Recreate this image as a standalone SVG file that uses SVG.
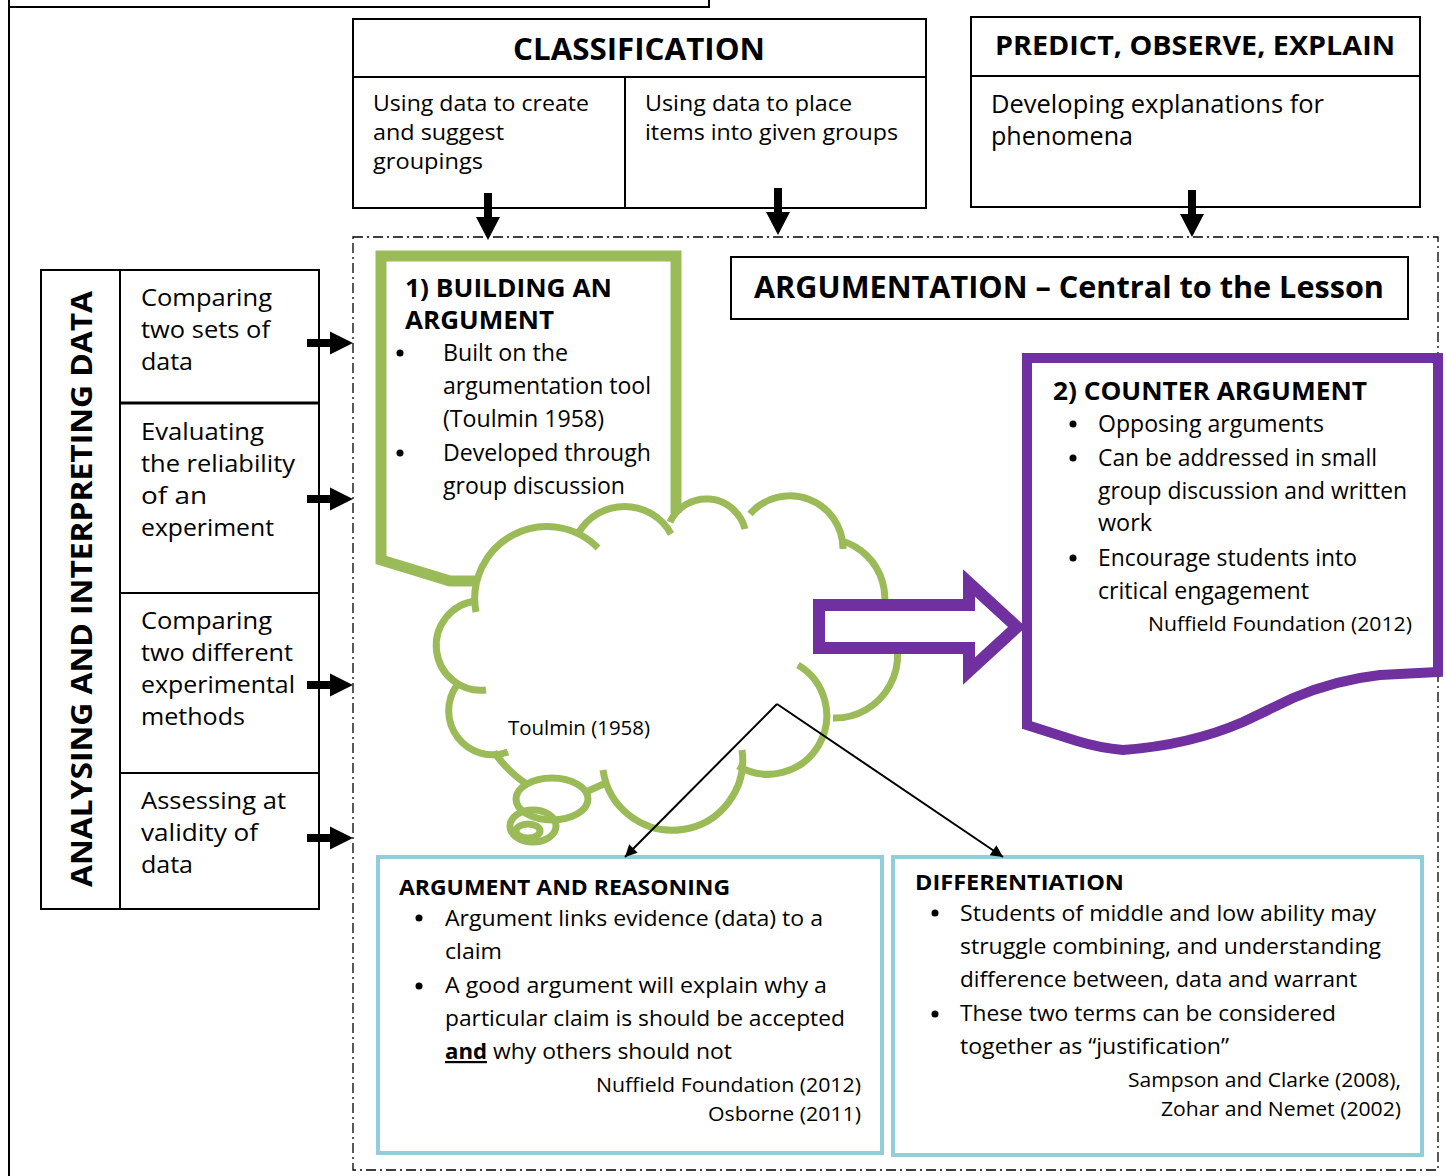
<svg xmlns="http://www.w3.org/2000/svg" width="1446" height="1176" viewBox="0 0 1446 1176">
<style>
text{font-family:"Open Sans","Noto Sans","DejaVu Sans",sans-serif;fill:#000}
.b{font-weight:bold}
.box{fill:#fff;stroke:#000;stroke-width:2}
.ln{stroke:#000;stroke-width:2;fill:none}
.cl{fill:none;stroke:#9BBB59;stroke-width:7}
.blue{fill:#fff;stroke:#92CDDC;stroke-width:4}
.s22{font-size:22px}.s24{font-size:24px}.s23{font-size:23px}.s20{font-size:20px}.s25{font-size:25px}
</style>
<defs>
<path id="darr" d="M-4,0 H4 V24 H12 L0,47 L-12,24 H-4 Z" fill="#000"/>
<path id="rarr" d="M0,-4 H23 V-11.5 L46,0 L23,11.5 V4 H0 Z" fill="#000"/>
<marker id="ah" viewBox="0 0 10 10" refX="10" refY="5" markerWidth="7" markerHeight="6" orient="auto" markerUnits="strokeWidth"><path d="M0,0 L10,5 L0,10 Z" fill="#000"/></marker>
</defs>
<rect width="1446" height="1176" fill="#fff"/>
<g id="frame">
<rect x="9" y="-10" width="700" height="17" fill="none" stroke="#000" stroke-width="2"/>
<line x1="9" y1="0" x2="9" y2="1176" stroke="#000" stroke-width="2"/>
<rect x="353" y="237" width="1085" height="933" fill="none" stroke="#000" stroke-width="1.3" stroke-dasharray="10,4,2,4"/>
</g>
<g id="classification">
<rect class="box" x="353" y="19" width="573" height="189"/>
<line class="ln" x1="353" y1="77" x2="926" y2="77"/>
<line class="ln" x1="625" y1="77" x2="625" y2="208"/>
<text class="b" x="639" y="60" font-size="30" text-anchor="middle" textLength="252" lengthAdjust="spacingAndGlyphs">CLASSIFICATION</text>
<text class="s22" x="373" y="111" textLength="216" lengthAdjust="spacingAndGlyphs">Using data to create</text>
<text class="s22" x="373" y="140" textLength="131" lengthAdjust="spacingAndGlyphs">and suggest</text>
<text class="s22" x="373" y="169" textLength="110" lengthAdjust="spacingAndGlyphs">groupings</text>
<text class="s22" x="645" y="111" textLength="207" lengthAdjust="spacingAndGlyphs">Using data to place</text>
<text class="s22" x="645" y="140" textLength="253" lengthAdjust="spacingAndGlyphs">items into given groups</text>
</g>
<g id="poe">
<rect class="box" x="971" y="17" width="449" height="190"/>
<line class="ln" x1="971" y1="76" x2="1420" y2="76"/>
<text class="b" x="1195" y="55" font-size="27" text-anchor="middle" textLength="400" lengthAdjust="spacingAndGlyphs">PREDICT, OBSERVE, EXPLAIN</text>
<text class="s25" x="991" y="113" textLength="333" lengthAdjust="spacingAndGlyphs">Developing explanations for</text>
<text class="s25" x="991" y="145" textLength="142" lengthAdjust="spacingAndGlyphs">phenomena</text>
</g>
<g id="analysing">
<rect class="box" x="41" y="270" width="278" height="639"/>
<line class="ln" x1="120" y1="270" x2="120" y2="909"/>
<line x1="120" y1="403" x2="319" y2="403" stroke="#000" stroke-width="3"/>
<line class="ln" x1="120" y1="593" x2="319" y2="593"/>
<line class="ln" x1="120" y1="773" x2="319" y2="773"/>
<text class="b" transform="translate(92,589) rotate(-90)" font-size="29" text-anchor="middle" textLength="596" lengthAdjust="spacingAndGlyphs">ANALYSING AND INTERPRETING DATA</text>
<text class="s24" x="141" y="306" textLength="131" lengthAdjust="spacingAndGlyphs">Comparing</text>
<text class="s24" x="141" y="338" textLength="129" lengthAdjust="spacingAndGlyphs">two sets of</text>
<text class="s24" x="141" y="370" textLength="52" lengthAdjust="spacingAndGlyphs">data</text>
<text class="s24" x="141" y="440" textLength="123" lengthAdjust="spacingAndGlyphs">Evaluating</text>
<text class="s24" x="141" y="472" textLength="154" lengthAdjust="spacingAndGlyphs">the reliability</text>
<text class="s24" x="141" y="504" textLength="66" lengthAdjust="spacingAndGlyphs">of an</text>
<text class="s24" x="141" y="536" textLength="133" lengthAdjust="spacingAndGlyphs">experiment</text>
<text class="s24" x="141" y="629" textLength="131" lengthAdjust="spacingAndGlyphs">Comparing</text>
<text class="s24" x="141" y="661" textLength="152" lengthAdjust="spacingAndGlyphs">two different</text>
<text class="s24" x="141" y="693" textLength="154" lengthAdjust="spacingAndGlyphs">experimental</text>
<text class="s24" x="141" y="725" textLength="104" lengthAdjust="spacingAndGlyphs">methods</text>
<text class="s24" x="141" y="809" textLength="145" lengthAdjust="spacingAndGlyphs">Assessing at</text>
<text class="s24" x="141" y="841" textLength="117" lengthAdjust="spacingAndGlyphs">validity of</text>
<text class="s24" x="141" y="873" textLength="52" lengthAdjust="spacingAndGlyphs">data</text>
</g>
<g id="building">
<path d="M676,513 V256 H381 V560 L450,581 H479" fill="none" stroke="#9BBB59" stroke-width="11" stroke-linejoin="miter"/>
<text class="b s25" x="405" y="297" textLength="207" lengthAdjust="spacingAndGlyphs">1) BUILDING AN</text>
<text class="b s25" x="405" y="329" textLength="149" lengthAdjust="spacingAndGlyphs">ARGUMENT</text>
<circle cx="400" cy="353" r="3.5"/>
<circle cx="400" cy="453" r="3.5"/>
<text class="s23" x="443" y="361" textLength="125" lengthAdjust="spacingAndGlyphs">Built on the</text>
<text class="s23" x="443" y="394" textLength="208" lengthAdjust="spacingAndGlyphs">argumentation tool</text>
<text class="s23" x="443" y="427" textLength="161" lengthAdjust="spacingAndGlyphs">(Toulmin 1958)</text>
<text class="s23" x="443" y="461" textLength="208" lengthAdjust="spacingAndGlyphs">Developed through</text>
<text class="s23" x="443" y="494" textLength="182" lengthAdjust="spacingAndGlyphs">group discussion</text>
</g>
<g id="cloud">
<path class="cl" d="M476,612 A72,72 0 0 1 598,548"/>
<path class="cl" d="M578,534 A53,53 0 0 1 671,534"/>
<path class="cl" d="M670,522 A40,40 0 0 1 745,529"/>
<path class="cl" d="M750,514 A53,53 0 0 1 843,549"/>
<path class="cl" d="M842,541 A60,60 0 0 1 870,638"/>
<path class="cl" d="M887,620 A63,63 0 0 1 833,718"/>
<path class="cl" d="M798,665 A57,57 0 1 1 738,766"/>
<path class="cl" d="M742,750 A70,70 0 0 1 603,770"/>
<path class="cl" d="M588,791 L608,782"/>
<path class="cl" d="M508,752 A44,44 0 0 1 457,685"/>
<path class="cl" d="M486,690 A44,44 0 0 1 476,601"/>
<path class="cl" d="M494,752 Q508,772 528,785"/>
<ellipse class="cl" cx="552" cy="799" rx="36" ry="21" fill="#fff"/>
<ellipse class="cl" cx="533" cy="826" rx="23" ry="16" fill="#fff"/>
<ellipse class="cl" cx="528" cy="831" rx="12" ry="7" fill="#fff"/>
<text class="s20" x="508" y="735" textLength="142" lengthAdjust="spacingAndGlyphs">Toulmin (1958)</text>
</g>
<g id="argumentation">
<rect class="box" x="731" y="257" width="677" height="62"/>
<text class="b" x="1069" y="298" font-size="30" text-anchor="middle" textLength="630" lengthAdjust="spacingAndGlyphs">ARGUMENTATION – Central to the Lesson</text>
</g>
<g id="counter">
<path d="M1027,358 H1438 V672 L1380,675 Q1335,680 1293,698 L1243,722 Q1190,745 1123,750 Q1100,748 1077,741 L1027,725 Z" fill="#fff" stroke="#7030A0" stroke-width="10" stroke-linejoin="miter"/>
<text class="b s25" x="1053" y="400" textLength="314" lengthAdjust="spacingAndGlyphs">2) COUNTER ARGUMENT</text>
<circle cx="1073" cy="424" r="3.5"/>
<circle cx="1073" cy="458" r="3.5"/>
<circle cx="1073" cy="558" r="3.5"/>
<text class="s23" x="1098" y="432" textLength="226" lengthAdjust="spacingAndGlyphs">Opposing arguments</text>
<text class="s23" x="1098" y="466" textLength="279" lengthAdjust="spacingAndGlyphs">Can be addressed in small</text>
<text class="s23" x="1098" y="499" textLength="309" lengthAdjust="spacingAndGlyphs">group discussion and written</text>
<text class="s23" x="1098" y="531" textLength="54" lengthAdjust="spacingAndGlyphs">work</text>
<text class="s23" x="1098" y="566" textLength="259" lengthAdjust="spacingAndGlyphs">Encourage students into</text>
<text class="s23" x="1098" y="599" textLength="211" lengthAdjust="spacingAndGlyphs">critical engagement</text>
<text class="s20" x="1412" y="631" text-anchor="end" textLength="264" lengthAdjust="spacingAndGlyphs">Nuffield Foundation (2012)</text>
</g>
<g id="reasoning">
<rect class="blue" x="378" y="857" width="504" height="296"/>
<text class="b s22" x="399" y="895" textLength="331" lengthAdjust="spacingAndGlyphs">ARGUMENT AND REASONING</text>
<circle cx="419" cy="918" r="3.5"/>
<circle cx="419" cy="986" r="3.5"/>
<text class="s22" x="445" y="926" textLength="378" lengthAdjust="spacingAndGlyphs">Argument links evidence (data) to a</text>
<text class="s22" x="445" y="959" textLength="57" lengthAdjust="spacingAndGlyphs">claim</text>
<text class="s22" x="445" y="993" textLength="382" lengthAdjust="spacingAndGlyphs">A good argument will explain why a</text>
<text class="s22" x="445" y="1026" textLength="400" lengthAdjust="spacingAndGlyphs">particular claim is should be accepted</text>
<text class="b s22" x="445" y="1059" text-decoration="underline" textLength="42" lengthAdjust="spacingAndGlyphs">and</text>
<text class="s22" x="493" y="1059" textLength="239" lengthAdjust="spacingAndGlyphs">why others should not</text>
<text class="s20" x="861" y="1092" text-anchor="end" textLength="265" lengthAdjust="spacingAndGlyphs">Nuffield Foundation (2012)</text>
<text class="s20" x="861" y="1121" text-anchor="end" textLength="153" lengthAdjust="spacingAndGlyphs">Osborne (2011)</text>
</g>
<g id="differentiation">
<rect class="blue" x="893" y="857" width="529" height="298"/>
<text class="b s22" x="915" y="890" textLength="209" lengthAdjust="spacingAndGlyphs">DIFFERENTIATION</text>
<circle cx="935" cy="913" r="3.5"/>
<circle cx="935" cy="1014" r="3.5"/>
<text class="s22" x="960" y="921" textLength="416" lengthAdjust="spacingAndGlyphs">Students of middle and low ability may</text>
<text class="s22" x="960" y="954" textLength="421" lengthAdjust="spacingAndGlyphs">struggle combining, and understanding</text>
<text class="s22" x="960" y="987" textLength="397" lengthAdjust="spacingAndGlyphs">difference between, data and warrant</text>
<text class="s22" x="960" y="1021" textLength="376" lengthAdjust="spacingAndGlyphs">These two terms can be considered</text>
<text class="s22" x="960" y="1054" textLength="269" lengthAdjust="spacingAndGlyphs">together as “justification”</text>
<text class="s20" x="1401" y="1087" text-anchor="end" textLength="273" lengthAdjust="spacingAndGlyphs">Sampson and Clarke (2008),</text>
<text class="s20" x="1401" y="1116" text-anchor="end" textLength="240" lengthAdjust="spacingAndGlyphs">Zohar and Nemet (2002)</text>
</g>
<g id="connectors">
<use href="#darr" transform="translate(488,193)"/>
<use href="#darr" transform="translate(778,188)"/>
<use href="#darr" transform="translate(1192,190)"/>
<use href="#rarr" transform="translate(307,343)"/>
<use href="#rarr" transform="translate(307,499)"/>
<use href="#rarr" transform="translate(307,685)"/>
<use href="#rarr" transform="translate(307,838)"/>
<path d="M819,605 H969 V583 L1017,627 L969,671 V648 H819 Z" fill="#fff" stroke="#7030A0" stroke-width="12" stroke-linejoin="miter"/>
<path d="M777,704 L625,857" fill="none" stroke="#000" stroke-width="2" marker-end="url(#ah)"/>
<path d="M777,704 L1003,857" fill="none" stroke="#000" stroke-width="2" marker-end="url(#ah)"/>
</g>
</svg>
